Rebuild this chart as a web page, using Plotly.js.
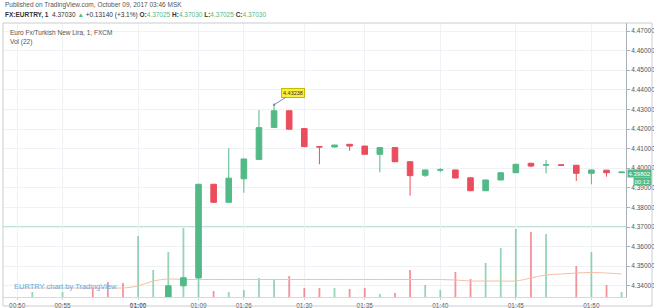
<!DOCTYPE html>
<html><head><meta charset="utf-8">
<script src="https://cdn.plot.ly/plotly-3.0.1.min.js"></script>
<style>html,body{margin:0;padding:0;background:#fff;overflow:hidden}#c{width:654px;height:308px}</style>
</head><body><div id="c"></div>
<script>
// ---- data ----
const tickPos  = [0, 3, 8, 12, 15, 19, 23, 28, 33, 38];
const tickText = ['00:50','00:55','01:00','01:09','01:26','01:30','01:35','01:40','01:45','01:50'];
const boldTick = '01:00';
const candleStart = 10;
const openP  = [4.3280,4.3400,4.3440,4.3918,4.3826,4.3946,4.4045,4.4208,4.4293,4.4202,4.4110,4.4108,4.4122,4.4113,4.4071,4.4105,4.4033,4.3964,4.3990,4.3991,4.3951,4.3885,4.3940,4.3977,4.4025,4.4016,4.4017,4.4015,4.3974,4.3990,4.3977];
const highP  = [4.3402,4.3443,4.3920,4.3920,4.4102,4.4049,4.4297,4.43238,4.4295,4.4204,4.4112,4.4120,4.4123,4.4114,4.4106,4.4106,4.4034,4.3992,4.4000,4.3992,4.3952,4.3941,4.3978,4.4021,4.4028,4.4042,4.4018,4.4016,4.3992,4.3991,4.3981];
const lowP   = [4.3270,4.3398,4.3436,4.3824,4.3822,4.3875,4.4043,4.4206,4.4197,4.4108,4.4020,4.4106,4.4089,4.4070,4.3979,4.4032,4.3860,4.3955,4.3979,4.3949,4.3884,4.3884,4.3939,4.3976,4.4005,4.3974,4.4014,4.3935,4.3918,4.3957,4.3976];
const closeP = [4.3400,4.3441,4.3918,4.3826,4.3949,4.4047,4.4207,4.4293,4.4199,4.4110,4.4108,4.4118,4.4113,4.4071,4.4105,4.4033,4.3962,4.3991,4.3992,4.3950,4.3885,4.3940,4.3977,4.4020,4.4011,4.4017,4.4015,4.3974,4.3991,4.3977,4.39802];
const volume = [0,5,0,5,0,9,15,14,61,27,45,69,70,6,5,7,19,18,21,9,9,9,8,9,3,4,27,12,7,25,18,34,49,68,65,63,0,31,45,12,5];
const volUp  = [1,1,1,1,1,0,0,0,1,1,1,1,1,0,1,1,1,1,0,0,0,1,0,0,1,0,0,1,1,0,0,1,1,1,0,1,0,0,1,0,1];
const volMA  = [9,9,9,9,9,9,9,9,11,16,18,17.5,17.5,17.5,17.5,17.5,17.5,17.5,17.5,17.5,17.5,17.5,17.5,17.5,17.5,17.5,17.5,17.5,17.5,17,16,16,16,16,19,22,23,24,24.5,24,23];
const refLevel = 4.3703;
const countdown = '00:12';
const publishedText = 'Published on TradingView.com, October 09, 2017 03:46 MSK';
const symbol = 'FX:EURTRY, 1';
const hdrLast = '4.37030', hdrChange = '+0.13140 (+3.1%)';
const hdrO = '4.37025', hdrH = '4.37030', hdrL = '4.37025', hdrC = '4.37030';
const seriesTitle = 'Euro Fx/Turkish New Lira, 1, FXCM';
const volTitle = 'Vol (22)';
const watermark = 'EURTRY chart by TradingView';

// ---- styling / layout ----
const UP = '#53b987', DN = '#eb4d5c';
const L = 3, T = 23, RM = 28, BM = 11, FW = 654, FH = 308;
const PW = FW - L - RM, PH = FH - T - BM;
const px = x => (x - L) / PW;
const py = y => (FH - BM - y) / PH;
const FONT = 'Liberation Sans, Arial, sans-serif';
const fmt = v => v.toFixed(5);

const cx = openP.map((_, j) => candleStart + j);
const barX = volume.map((_, i) => i);
const volColors = volUp.map(u => u ? 'rgba(83,185,135,0.6)' : 'rgba(235,77,92,0.6)');

let hiIdx = 0; highP.forEach((h, j) => { if (h > highP[hiIdx]) hiIdx = j; });
const lastClose = closeP[closeP.length - 1];

const traces = [
  {type:'bar', x:barX, y:volume, yaxis:'y', marker:{color:volColors, line:{width:0}}, width:0.12, hoverinfo:'skip'},
  {type:'scatter', mode:'lines', x:barX, y:volMA, yaxis:'y', line:{color:'#f7bfa6', width:1, shape:'spline'}, hoverinfo:'skip'},
  {type:'candlestick', x:cx, open:openP, high:highP, low:lowP, close:closeP, yaxis:'y2',
   increasing:{line:{color:UP, width:1}, fillcolor:UP},
   decreasing:{line:{color:DN, width:1}, fillcolor:DN}, whiskerwidth:0, hoverinfo:'skip'}
];

const green = s => `<span style="color:${UP}">${s}</span>`;
const hdr2 = `<b>${symbol}</b>  ${hdrLast} ${green('▲')} ${hdrChange} <b>O:</b>${green(hdrO)} <b>H:</b>${green(hdrH)} <b>L:</b>${green(hdrL)} <b>C:</b>${green(hdrC)}`;

const layout = {
  width: FW, height: FH,
  margin: {l:L, r:RM, t:T, b:BM, pad:0},
  paper_bgcolor:'#fff', plot_bgcolor:'#fff',
  showlegend:false, dragmode:false,
  font:{family:FONT, size:7, color:'#555'},
  boxgap:0.47,
  xaxis:{range:[-0.94, 40.29], tickmode:'array', tickvals:tickPos,
         ticktext:tickText.map(t => t === boldTick ? `<b>${t}</b>` : t),
         showgrid:true, gridcolor:'#eef1f5', gridwidth:1, zeroline:false,
         showline:true, linecolor:'#d6d9de', ticks:'outside', ticklen:2, tickcolor:'#cfd3d8',
         tickfont:{size:6.5, color:'#555'}, rangeslider:{visible:false}, fixedrange:true},
  yaxis:{range:[0, PH], visible:false, showgrid:false, zeroline:false, fixedrange:true},
  yaxis2:{overlaying:'y', side:'right', anchor:'x', range:[4.33429, 4.47408],
          tick0:4.34, dtick:0.01, tickformat:'.5f', showgrid:true, gridcolor:'#eef1f5',
          zeroline:false, showline:true, linecolor:'#aab0b8', ticks:'outside', ticklen:3,
          tickcolor:'#aab0b8', tickfont:{size:6.5, color:'#555'}, fixedrange:true},
  shapes:[
    {type:'line', xref:'paper', yref:'y2', x0:0, x1:1, y0:refLevel, y1:refLevel, line:{color:'#b9e0d6', width:1}, layer:'below'},
    {type:'line', xref:'x', yref:'y2', x0:cx[cx.length-1]+0.4, x1:40.29, y0:lastClose, y1:lastClose, line:{color:UP, width:1}},
    {type:'rect', xref:'paper', yref:'paper', x0:0, x1:px(652), y0:py(306), y1:1, line:{color:'#c9ccd2', width:1}, fillcolor:'rgba(0,0,0,0)'}
  ],
  annotations:[
    {xref:'paper', yref:'paper', x:px(3), y:py(5), xanchor:'left', yanchor:'middle', showarrow:false,
     text:publishedText, font:{size:6.5, color:'#555'}},
    {xref:'paper', yref:'paper', x:px(3), y:py(15), xanchor:'left', yanchor:'middle', showarrow:false,
     text:hdr2, font:{size:6.5, color:'#333'}},
    {xref:'paper', yref:'paper', x:px(8), y:py(33), xanchor:'left', yanchor:'middle', showarrow:false,
     text:seriesTitle, font:{size:6.5, color:'#555'}},
    {xref:'paper', yref:'paper', x:px(8), y:py(42), xanchor:'left', yanchor:'middle', showarrow:false,
     text:volTitle, font:{size:6.5, color:'#555'}},
    {xref:'paper', yref:'paper', x:px(12), y:py(286), xanchor:'left', yanchor:'middle', showarrow:false,
     text:watermark, font:{size:7.5, color:'#6aa9e0'}},
    {xref:'x', yref:'y2', x:cx[hiIdx], y:highP[hiIdx], text:fmt(highP[hiIdx]), showarrow:true,
     ax:19, ay:-12, arrowhead:6, arrowsize:0.6, arrowwidth:1, arrowcolor:'#8a7fb8',
     bgcolor:'#f8ef3c', bordercolor:'#c9b900', borderwidth:1, borderpad:1,
     font:{size:5.5, color:'#333'}},
    {xref:'paper', yref:'y2', x:px(652), y:lastClose, yshift:-1, xanchor:'right', yanchor:'middle', showarrow:false,
     text:fmt(lastClose), bgcolor:UP, borderpad:0.5, font:{size:6, color:'#fff'}},
    {xref:'paper', yref:'y2', x:px(652), y:lastClose, yshift:-9.5, xanchor:'right', yanchor:'middle', showarrow:false,
     text:countdown, bgcolor:UP, borderpad:0.5, font:{size:6, color:'#fff'}}
  ]
};

Plotly.newPlot('c', traces, layout, {staticPlot:true, displayModeBar:false});
</script></body></html>
